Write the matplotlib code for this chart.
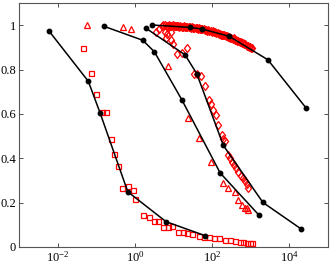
import matplotlib
matplotlib.use("Agg")
import matplotlib.pyplot as plt
import numpy as np
from matplotlib.ticker import FixedLocator, NullLocator

plt.rcParams['font.family'] = ['Liberation Serif', 'DejaVu Serif']
plt.rcParams['mathtext.fontset'] = 'stix'

# x values are stored as log10(x)
# series 1 : squares
sq_lx = [-1.35, -1.143, -0.997, -0.85, -0.746, -0.624, -0.531, -0.427, -0.332, -0.176,
         -0.047, 0.013, 0.22, 0.376, 0.497, 0.609, 0.738, 0.85, 0.955, 1.127, 1.24,
         1.36, 1.49, 1.663, 1.79, 1.93, 2.06, 2.19, 2.337, 2.466, 2.596, 2.725, 2.81,
         2.9, 2.98, 3.03]
sq_y = [0.896, 0.783, 0.689, 0.607, 0.607, 0.485, 0.421, 0.364, 0.265, 0.277,
        0.255, 0.216, 0.144, 0.133, 0.115, 0.118, 0.092, 0.092, 0.094, 0.069, 0.069,
        0.064, 0.058, 0.049, 0.046, 0.044, 0.039, 0.039, 0.031, 0.031, 0.028, 0.024, 0.021,
        0.019, 0.019, 0.018]
fit1_lx = [-2.215, -1.205, -0.90, -0.184, 0.808, 1.819]
fit1_y = [0.972, 0.747, 0.604, 0.249, 0.114, 0.051]

# series 2 : triangles
tri_lx = [-1.23, -0.314, -0.106, 0.868, 1.386, 1.67, 1.97, 2.27, 2.42, 2.58, 2.68,
          2.77, 2.84, 2.90, 2.94]
tri_y = [1.002, 0.993, 0.984, 0.818, 0.58, 0.493, 0.383, 0.289, 0.268, 0.249, 0.214,
         0.189, 0.178, 0.174, 0.166]
fit2_lx = [-0.80, 0.205, 0.505, 1.215, 2.207, 3.21]
fit2_y = [0.995, 0.932, 0.88, 0.664, 0.334, 0.144]

# series 3 : diamonds (falling)
dia_lx = [0.549, 0.635, 0.78, 0.84, 0.94, 0.81, 0.94, 0.98, 1.085, 1.23, 1.36, 1.54,
          1.6, 1.715, 1.82, 1.92, 1.97, 2.03, 2.09, 2.16, 2.25, 2.29, 2.34, 2.42, 2.47,
          2.51, 2.57, 2.61, 2.66, 2.74, 2.80, 2.855, 2.90, 2.92]
dia_y = [0.968, 0.983, 0.971, 0.96, 0.968, 0.94, 0.935, 0.915, 0.87, 0.875, 0.898, 0.78,
         0.78, 0.77, 0.728, 0.661, 0.646, 0.616, 0.593, 0.548, 0.503, 0.489, 0.478, 0.413, 0.399,
         0.383, 0.369, 0.354, 0.338, 0.32, 0.309, 0.297, 0.282, 0.268]
fit3_lx = [0.29, 1.30, 1.603, 2.29, 3.313, 4.306]
fit3_y = [0.986, 0.866, 0.781, 0.458, 0.201, 0.081]

# series 4 : diamonds (top band)
top_lx = [0.70, 0.74, 0.79, 0.82, 0.86, 0.88, 0.92, 0.94, 0.98, 1.00, 1.03, 1.06, 1.09,
          1.12, 1.15, 1.18, 1.21, 1.24, 1.27, 1.30, 1.33, 1.36, 1.40, 1.42, 1.45, 1.48,
          1.51, 1.54, 1.57, 1.60, 1.63, 1.66, 1.69, 1.72, 1.75, 1.78, 1.81, 1.84, 1.87,
          1.90, 1.93, 1.96, 1.99, 2.02, 2.05, 2.08, 2.11, 2.14, 2.17, 2.20, 2.23, 2.26,
          2.29, 2.32, 2.35, 2.38, 2.41, 2.44, 2.47, 2.50, 2.53, 2.56, 2.59, 2.62, 2.65,
          2.68, 2.71, 2.74, 2.77, 2.80, 2.83, 2.86, 2.89, 2.92, 2.95, 2.98, 3.01, 3.03]
top_y = [0.998, 1.001, 0.999, 0.996, 0.998, 1.0, 0.997, 0.996, 0.999, 0.998, 0.995, 0.997,
         0.998, 0.995, 0.994, 0.996, 0.993, 0.994, 0.995, 0.993, 0.991, 0.994, 0.990, 0.992,
         0.989, 0.990, 0.987, 0.989, 0.986, 0.988, 0.985, 0.986, 0.983, 0.985, 0.981, 0.982,
         0.979, 0.980, 0.976, 0.978, 0.975, 0.975, 0.971, 0.972, 0.969, 0.968, 0.966, 0.965,
         0.961, 0.962, 0.957, 0.958, 0.955, 0.955, 0.950, 0.951, 0.947, 0.948, 0.943, 0.944,
         0.939, 0.940, 0.934, 0.935, 0.929, 0.930, 0.924, 0.925, 0.918, 0.920, 0.913, 0.914,
         0.906, 0.908, 0.902, 0.901, 0.897, 0.895]
fit4_lx = [0.438, 1.43, 1.733, 2.44, 3.443, 4.435]
fit4_y = [1.001, 0.99, 0.983, 0.95, 0.844, 0.626]

red = (1, 0, 0)
fig = plt.figure(figsize=(3.31, 2.64), dpi=100)
ax = fig.add_axes([0.0574, 0.0644, 0.9336, 0.9242])

mk = dict(linestyle='none', mfc='none', mec=red, mew=0.9)
ax.plot(10 ** np.array(sq_lx), sq_y, marker='s', ms=3.6, **mk)
ax.plot(10 ** np.array(tri_lx), tri_y, marker='^', ms=4.8, **mk)
ax.plot(10 ** np.array(dia_lx), dia_y, marker='d', ms=4.5, **mk)
ax.plot(10 ** np.array(top_lx), top_y, marker='d', ms=4.5, **mk)

for lx, y in [(fit1_lx, fit1_y), (fit2_lx, fit2_y), (fit3_lx, fit3_y), (fit4_lx, fit4_y)]:
    ax.plot(10 ** np.array(lx), y, color='k', lw=1.1, marker='o', ms=3.2)

ax.set_xscale('log')
ax.set_xlim(1e-3, 1e5)
ax.set_ylim(0, 1.1)
ax.xaxis.set_major_locator(FixedLocator([1e-2, 1e0, 1e2, 1e4]))
ax.xaxis.set_minor_locator(NullLocator())
ax.set_yticks([0, 0.2, 0.4, 0.6, 0.8, 1.0])
ax.set_yticklabels(['0', '0.2', '0.4', '0.6', '0.8', '1'])
ax.tick_params(direction='in', top=True, right=True, length=3, width=0.6,
               labelsize=9, pad=2, colors='#333333', labelcolor='k')
for s in ax.spines.values():
    s.set_color('#555555')
    s.set_linewidth(0.8)

fig.savefig('out.png', dpi=100)
